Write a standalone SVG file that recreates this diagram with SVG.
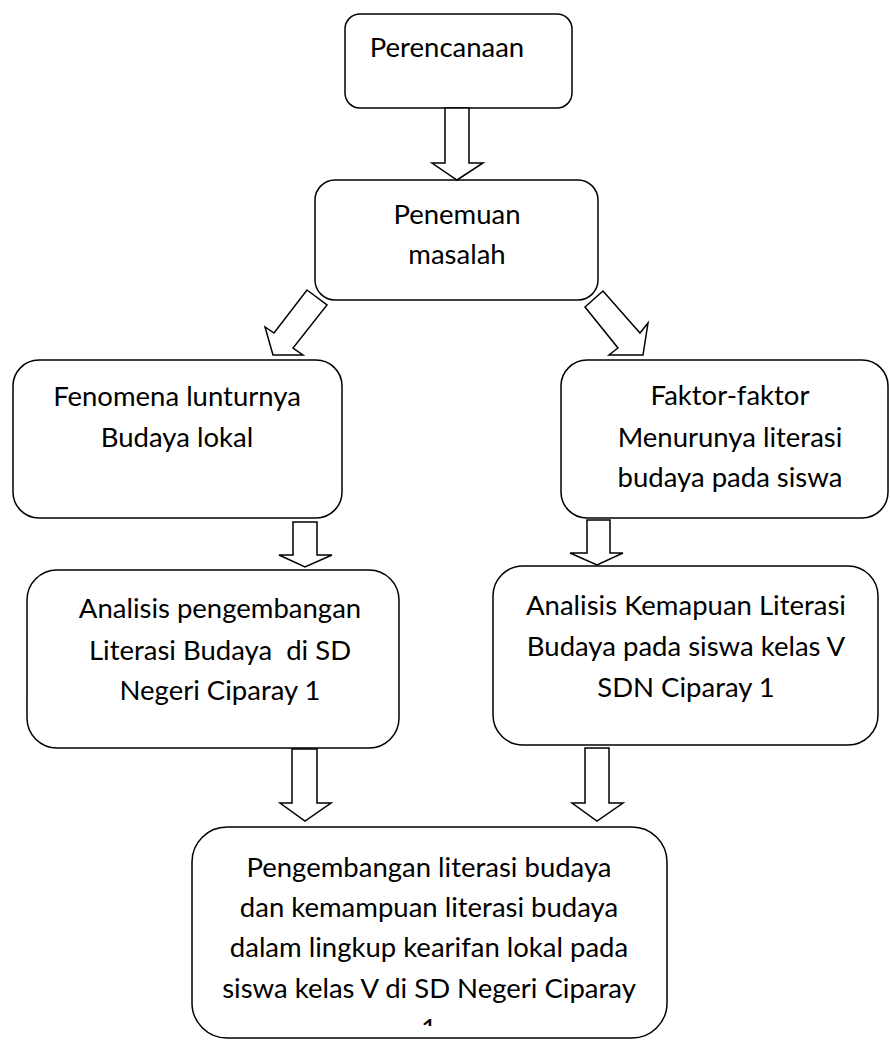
<svg xmlns="http://www.w3.org/2000/svg" width="890" height="1041" viewBox="0 0 890 1041">
<style>
.box{fill:#fff;stroke:#000;stroke-width:1.5}
.arr{fill:#fff;stroke:#000;stroke-width:1.5;stroke-linejoin:miter}
text{font-family:Lato,"Open Sans","Liberation Sans",sans-serif;font-size:27.5px;fill:#000;text-anchor:middle;white-space:pre}
</style>
<defs>
<clipPath id="clipLast"><rect x="380" y="1000" width="100" height="26"/></clipPath>
</defs>
<rect width="890" height="1041" fill="#fff"/>
<g id="n1">
<rect class="box" x="345" y="14" width="227" height="94" rx="15"/>
<text x="447" y="57">Perencanaan</text>
</g>
<g id="n2">
<rect class="box" x="315" y="180" width="283" height="120" rx="20"/>
<text x="457" y="224">Penemuan</text>
<text x="457" y="264">masalah</text>
</g>
<g id="n3">
<rect class="box" x="13" y="360" width="329" height="158" rx="26"/>
<text x="177" y="406">Fenomena lunturnya</text>
<text x="177" y="447">Budaya lokal</text>
</g>
<g id="n4">
<rect class="box" x="561" y="360" width="327" height="158" rx="26"/>
<text x="730" y="405">Faktor-faktor</text>
<text x="730" y="447">Menurunya literasi</text>
<text x="730" y="487">budaya pada siswa</text>
</g>
<g id="n5">
<rect class="box" x="27" y="570" width="372" height="178" rx="30"/>
<text x="220" y="618">Analisis pengembangan</text>
<text x="220" y="660">Literasi Budaya  di SD</text>
<text x="220" y="700">Negeri Ciparay 1</text>
</g>
<g id="n6">
<rect class="box" x="493" y="566" width="385" height="179" rx="30"/>
<text x="686" y="615">Analisis Kemapuan Literasi</text>
<text x="686" y="656">Budaya pada siswa kelas V</text>
<text x="686" y="697">SDN Ciparay 1</text>
</g>
<g id="n7">
<rect class="box" x="192" y="827" width="475" height="211" rx="35"/>
<text x="429" y="877">Pengembangan literasi budaya</text>
<text x="429" y="917">dan kemampuan literasi budaya</text>
<text x="429" y="957">dalam lingkup kearifan lokal pada</text>
<text x="429" y="998">siswa kelas V di SD Negeri Ciparay</text>
<text x="429" y="1038" clip-path="url(#clipLast)">1</text>
</g>
<g id="connectors">
<polygon class="arr" points="445,108 469,108 469,163 483,163 457,180 432,163 445,163"/>
<polygon class="arr" points="307,290 327,305 293,348 303,355 273,355 265,327 274,333"/>
<polygon class="arr" points="603,291 585,307 618,348 609,355 643,355 648,323 640,333"/>
<polygon class="arr" points="293,522 317,522 317,555 332,555 305,567 279,555 293,555"/>
<polygon class="arr" points="587,520 610,520 610,553 623,553 597,565 570,553 587,553"/>
<polygon class="arr" points="292,749 317,749 317,803 331,803 305,821 280,803 292,803"/>
<polygon class="arr" points="585,748 609,748 609,803 623,803 597,821 572,803 585,803"/>
</g>
</svg>
